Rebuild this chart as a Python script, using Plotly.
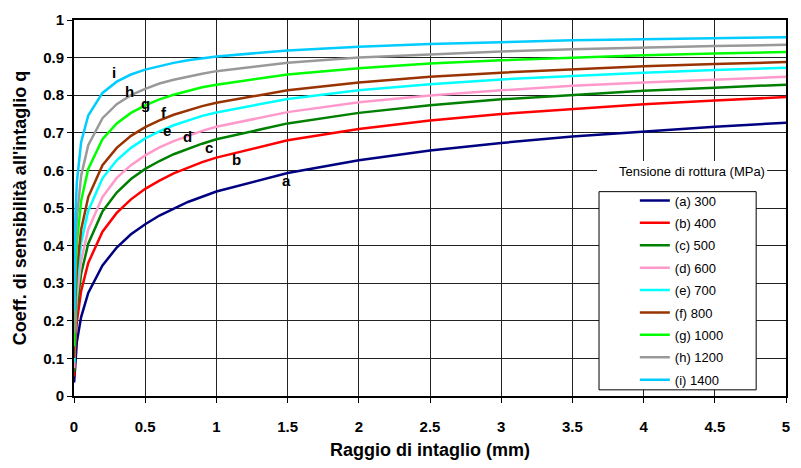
import plotly.graph_objects as go

# Notch radius (mm)
r = [0.001, 0.01, 0.02, 0.05, 0.1, 0.2, 0.3, 0.4, 0.5, 0.6, 0.7, 0.8, 0.9, 1.0,
     1.5, 2.0, 2.5, 3.0, 3.5, 4.0, 4.5, 5.0]

q_a = [0.036, 0.106, 0.144, 0.210, 0.274, 0.347, 0.395, 0.430, 0.457, 0.480, 0.499, 0.516, 0.530, 0.544,
       0.593, 0.627, 0.653, 0.673, 0.690, 0.704, 0.716, 0.727]
q_b = [0.052, 0.148, 0.197, 0.279, 0.354, 0.437, 0.487, 0.523, 0.551, 0.573, 0.592, 0.608, 0.622, 0.634,
       0.680, 0.710, 0.733, 0.750, 0.764, 0.776, 0.786, 0.795]
q_c = [0.064, 0.177, 0.233, 0.325, 0.405, 0.491, 0.541, 0.577, 0.604, 0.625, 0.643, 0.658, 0.671, 0.683,
       0.725, 0.753, 0.773, 0.789, 0.801, 0.812, 0.820, 0.828]
q_d = [0.074, 0.201, 0.262, 0.360, 0.443, 0.529, 0.580, 0.614, 0.640, 0.661, 0.678, 0.692, 0.705, 0.716,
       0.755, 0.781, 0.799, 0.813, 0.825, 0.834, 0.842, 0.849]
q_e = [0.089, 0.235, 0.303, 0.407, 0.493, 0.579, 0.627, 0.660, 0.685, 0.704, 0.720, 0.733, 0.745, 0.754,
       0.790, 0.813, 0.829, 0.842, 0.852, 0.860, 0.867, 0.873]
q_f = [0.101, 0.262, 0.334, 0.442, 0.529, 0.614, 0.660, 0.692, 0.715, 0.733, 0.748, 0.760, 0.771, 0.780,
       0.813, 0.834, 0.849, 0.860, 0.869, 0.877, 0.883, 0.888]
q_g = [0.132, 0.325, 0.405, 0.519, 0.604, 0.683, 0.725, 0.753, 0.773, 0.789, 0.801, 0.812, 0.821, 0.828,
       0.855, 0.872, 0.884, 0.893, 0.900, 0.906, 0.911, 0.915]
q_h = [0.167, 0.388, 0.472, 0.586, 0.667, 0.739, 0.776, 0.800, 0.817, 0.831, 0.841, 0.850, 0.857, 0.864,
       0.886, 0.900, 0.909, 0.916, 0.922, 0.927, 0.931, 0.934]
q_i = [0.227, 0.482, 0.568, 0.675, 0.746, 0.806, 0.836, 0.855, 0.868, 0.878, 0.886, 0.893, 0.898, 0.903,
       0.919, 0.929, 0.936, 0.941, 0.946, 0.949, 0.952, 0.954]

series = [q_a, q_b, q_c, q_d, q_e, q_f, q_g, q_h, q_i]
names = ["(a) 300", "(b) 400", "(c) 500", "(d) 600", "(e) 700", "(f) 800",
         "(g) 1000", "(h) 1200", "(i) 1400"]
colors = ["#000080", "#FF0000", "#008000", "#FF99CC", "#00FFFF", "#993300",
          "#00FF00", "#999999", "#00CCFF"]

# Curve letter labels
lab_text = ["a", "b", "c", "d", "e", "f", "g", "h", "i"]
lab_x = [1.49, 1.14, 0.95, 0.80, 0.65, 0.635, 0.50, 0.39, 0.28]
lab_y = [0.572, 0.629, 0.662, 0.690, 0.706, 0.755, 0.779, 0.811, 0.860]

x_ticks = [0, 0.5, 1, 1.5, 2, 2.5, 3, 3.5, 4, 4.5, 5]
y_ticks = [0, 0.1, 0.2, 0.3, 0.4, 0.5, 0.6, 0.7, 0.8, 0.9, 1]

FONT = "Liberation Sans, Arial, sans-serif"

fig = go.Figure()
for q, n, c in zip(series, names, colors):
    fig.add_trace(go.Scatter(x=r, y=q, mode="lines", name=n, legendgroup=n,
                             line=dict(color=c, width=2.5)))

for t, x, y in zip(lab_text, lab_x, lab_y):
    fig.add_annotation(x=x, y=y, text="<b>%s</b>" % t, showarrow=False,
                       font=dict(family=FONT, size=15, color="black"))

# white box behind legend title and legend box
fig.add_shape(type="rect", xref="paper", yref="paper", x0=0.7346, x1=0.9735, y0=0.5435, y1=0.625,
              fillcolor="white", line=dict(width=0), layer="above")
fig.add_shape(type="rect", xref="paper", yref="paper", x0=0.7374, x1=0.9581, y0=0.0164, y1=0.5435,
              fillcolor="white", line=dict(color="black", width=1), layer="above")
fig.add_annotation(xref="paper", yref="paper", x=0.8673, y=0.597, xanchor="center", yanchor="middle",
                   text="Tensione di rottura (MPa)",
                   showarrow=False, font=dict(family=FONT, size=13, color="black"))

fig.update_layout(
    width=801, height=468,
    margin=dict(l=74, r=11, t=13, b=71),
    paper_bgcolor="white", plot_bgcolor="white",
    font=dict(family=FONT, color="black"),
    showlegend=True,
    legend=dict(x=0.7877, y=0.5599, xanchor="left", yanchor="top",
                bgcolor="rgba(0,0,0,0)", borderwidth=0, tracegroupgap=2.5,
                font=dict(family=FONT, size=13, color="black")),
    xaxis=dict(range=[0, 5], tickvals=x_ticks, ticktext=["<b>%g</b>" % v for v in x_ticks],
               showgrid=True, gridcolor="#222", gridwidth=1, zeroline=False,
               showline=True, linecolor="black", linewidth=2, mirror=True,
               ticks="outside", ticklen=5, tickcolor="black", ticklabelstandoff=11,
               tickfont=dict(family=FONT, size=15, color="black"),
               title=dict(text="<b>Raggio di intaglio (mm)</b>",
                          font=dict(family=FONT, size=18, color="black"), standoff=9)),
    yaxis=dict(range=[0, 1], tickvals=y_ticks, ticktext=["<b>%g</b>" % v for v in y_ticks],
               showgrid=True, gridcolor="#222", gridwidth=1, zeroline=False,
               showline=True, linecolor="black", linewidth=2, mirror=True,
               ticks="outside", ticklen=5, tickcolor="black",
               tickfont=dict(family=FONT, size=15, color="black"),
               title=dict(text="<b>Coeff. di sensibilità all'intaglio q</b>",
                          font=dict(family=FONT, size=18, color="black"), standoff=12)),
)

fig.write_html("out.html")
